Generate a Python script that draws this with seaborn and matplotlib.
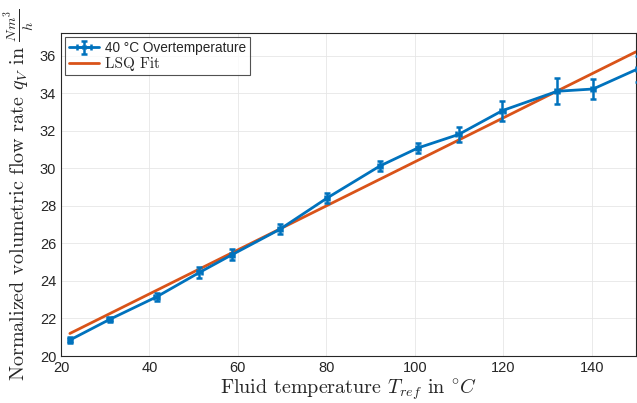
import numpy as np
import pandas as pd
import matplotlib
matplotlib.use("Agg")
import matplotlib.pyplot as plt
import seaborn as sns

temp = [22.0, 31.0, 41.6, 51.3, 58.7, 69.5, 80.2, 92.1, 100.7, 109.9, 119.8, 132.2, 140.3, 150.5]
flow = [20.85, 21.95, 23.15, 24.45, 25.4, 26.75, 28.42, 30.12, 31.08, 31.8, 33.07, 34.1, 34.22, 35.3]
flow_err = [0.15, 0.15, 0.2, 0.28, 0.3, 0.27, 0.28, 0.28, 0.29, 0.42, 0.53, 0.68, 0.52, 0.7]
temp_err = [0.5] * len(temp)

# least squares fit line end points
fit_t = [22.0, 150.0]
fit_q = [21.2, 36.2]

sns.set_style("white")
plt.rcParams["font.family"] = ["Liberation Sans", "DejaVu Sans"]
plt.rcParams["mathtext.fontset"] = "cm"

blue = "#0072BD"
orange = "#D95319"

fig, ax = plt.subplots(figsize=(6.37, 4.03), dpi=100)
fig.subplots_adjust(left=0.0958, right=0.9984, top=0.918, bottom=0.1166)

ax.errorbar(temp, flow, yerr=flow_err, xerr=temp_err, color=blue, lw=2,
            elinewidth=1.8, capsize=2.5, capthick=1.8, marker="x", ms=3,
            label="40 °C Overtemperature", zorder=3)
fit_df = pd.DataFrame({"T": fit_t, "q": fit_q})
sns.lineplot(data=fit_df, x="T", y="q", ax=ax, color=orange, lw=2,
             label="LSQ Fit", zorder=2)

ax.set_xlim(20, 150)
ax.set_ylim(20, 37.2)
ax.set_xticks(np.arange(20, 141, 20))
ax.set_yticks(np.arange(20, 37, 2))
ax.tick_params(direction="in", length=4, width=0.8, labelsize=10.5, colors="#262626",
               top=False, right=False)
ax.grid(True, color="#e6e6e6", lw=0.6)
for s in ax.spines.values():
    s.set_color("#262626")
    s.set_linewidth(0.8)

ax.set_xlabel(r"Fluid temperature $T_{ref}$ in $^{\circ}C$", family="cmr10",
              fontsize=14.5, labelpad=1)
ax.set_ylabel(r"Normalized volumetric flow rate $q_V$ in $\frac{Nm^3}{h}$",
              family="cmr10", fontsize=14.5, labelpad=2)

handles, labels = ax.get_legend_handles_labels()
order = [labels.index("40 °C Overtemperature"), labels.index("LSQ Fit")]
leg = ax.legend([handles[i] for i in order], [labels[i] for i in order],
                loc="upper left", bbox_to_anchor=(0.0, 1.0), frameon=True, fancybox=False,
                edgecolor="#262626", fontsize=9.8, borderaxespad=0.3, handlelength=2.2,
                borderpad=0.3, labelspacing=0.15, handletextpad=0.4)
leg.get_frame().set_linewidth(0.8)
leg.get_texts()[1].set_family("cmr10")
leg.get_texts()[1].set_fontsize(11)

fig.savefig("out.png", dpi=100)
